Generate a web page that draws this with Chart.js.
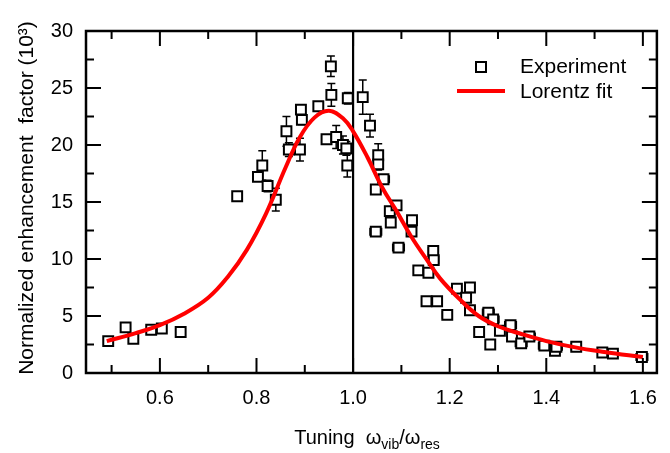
<!DOCTYPE html>
<html>
<head>
<meta charset="utf-8">
<script src="https://cdn.jsdelivr.net/npm/chart.js@4.4.0/dist/chart.umd.min.js"></script>
<style>
  body { margin: 0; background: #fff; }
  canvas { display: block; }
</style>
</head>
<body>
<canvas id="chart" width="670" height="453"></canvas>
<script>
// measured enhancement (10^3) vs tuning ratio, with error bars
const expX = [0.493, 0.529, 0.545, 0.582, 0.604, 0.643, 0.760, 0.803, 0.812, 0.823,
  0.840, 0.862, 0.867, 0.890, 0.892, 0.894, 0.928, 0.945, 0.954, 0.955,
  0.965, 0.979, 0.986, 0.988, 0.989, 1.020, 1.035, 1.047, 1.047, 1.052,
  1.052, 1.063, 1.076, 1.078, 1.090, 1.094, 1.122, 1.121, 1.135, 1.156,
  1.166, 1.167, 1.152, 1.174, 1.195, 1.215, 1.242, 1.234, 1.242, 1.261,
  1.280, 1.290, 1.284, 1.304, 1.326, 1.329, 1.348, 1.365, 1.396, 1.418,
  1.421, 1.462, 1.516, 1.538, 1.598]
const expY = [2.8, 4.0, 3.0, 3.8, 3.9, 3.6, 15.5, 17.2, 18.2, 16.4,
  15.2, 21.2, 19.6, 19.6, 23.1, 22.2, 23.4, 20.5, 26.9, 24.4,
  20.7, 20.0, 19.7, 18.2, 24.1, 24.2, 21.7, 16.1, 12.4, 19.1,
  18.3, 17.0, 14.2, 13.2, 14.7, 11.0, 13.4, 12.4, 9.0, 8.8,
  10.7, 9.9, 6.3, 6.3, 5.1, 7.4, 7.5, 6.6, 5.5, 3.6,
  5.3, 4.7, 2.5, 3.7, 4.2, 3.2, 2.6, 3.2, 2.4, 1.95,
  2.3, 2.3, 1.8, 1.7, 1.4]
const expYErr = [0, 0, 0, 0, 0, 0, 0, 0, 1.3, 0.5,
  1.0, 1.3, 0.6, 1.0, 0.4, 0.4, 0, 0.3, 0.9, 1.0,
  1.0, 0.8, 0.6, 1.0, 0.5, 1.5, 1.0, 0, 0, 1.0,
  0.5, 0, 0, 0, 0, 0, 0, 0, 0, 0,
  0, 0, 0, 0, 0, 0, 0, 0, 0, 0,
  0, 0, 0, 0, 0, 0, 0, 0, 0, 0,
  0, 0, 0, 0, 0]
const expXErr = [0, 0, 0, 0, 0, 0, 0, 0, 0, 0,
  0, 0, 0, 0, 0, 0, 0, 0, 0, 0,
  0, 0, 0, 0, 0, 0, 0, 0.01, 0.012, 0,
  0, 0.012, 0.01, 0, 0, 0.012, 0, 0, 0, 0,
  0.01, 0.01, 0, 0.01, 0.01, 0, 0, 0, 0.01, 0,
  0.012, 0.012, 0, 0, 0.012, 0, 0.012, 0.012, 0.012, 0,
  0.012, 0.01, 0, 0, 0.012]

// Lorentz fit curve
const fitX = [0.49, 0.55, 0.60, 0.65, 0.70, 0.74, 0.78, 0.82, 0.86, 0.89,
  0.92, 0.95, 0.98, 1.00, 1.03, 1.06, 1.09, 1.12, 1.15, 1.18,
  1.22, 1.26, 1.30, 1.35, 1.40, 1.46, 1.52, 1.60]
const fitY = [2.8, 3.5, 4.2, 5.2, 6.6, 8.4, 10.8, 14.0, 18.0, 20.7,
  22.4, 23.0, 22.3, 21.2, 18.9, 16.3, 14.2, 12.0, 10.1, 8.3,
  6.5, 5.0, 4.1, 3.4, 2.8, 2.25, 1.85, 1.4]

const resonanceAt = 1.0
const FONT = "'Liberation Sans', Arial, sans-serif"

const frameTicks = {
  id: 'frameTicks',
  beforeDatasetsDraw(chart) {
    const { ctx, chartArea: a, scales: { x, y } } = chart
    ctx.save()
    ctx.strokeStyle = '#000'
    // vertical line at resonance
    ctx.lineWidth = 2.2
    const rx = x.getPixelForValue(resonanceAt)
    ctx.beginPath()
    ctx.moveTo(rx, a.top)
    ctx.lineTo(rx, a.bottom)
    ctx.stroke()
    // error bars
    ctx.lineWidth = 1.5
    const cap = 4
    expX.forEach((xv, i) => {
      const px = x.getPixelForValue(xv)
      const py = y.getPixelForValue(expY[i])
      if (expYErr[i] > 0) {
        const t = y.getPixelForValue(expY[i] + expYErr[i])
        const b = y.getPixelForValue(expY[i] - expYErr[i])
        ctx.beginPath()
        ctx.moveTo(px, t); ctx.lineTo(px, b)
        ctx.moveTo(px - cap, t); ctx.lineTo(px + cap, t)
        ctx.moveTo(px - cap, b); ctx.lineTo(px + cap, b)
        ctx.stroke()
      }
      if (expXErr[i] > 0) {
        const l = x.getPixelForValue(xv - expXErr[i])
        const r = x.getPixelForValue(xv + expXErr[i])
        ctx.beginPath()
        ctx.moveTo(l, py); ctx.lineTo(r, py)
        ctx.moveTo(l, py - cap); ctx.lineTo(l, py + cap)
        ctx.moveTo(r, py - cap); ctx.lineTo(r, py + cap)
        ctx.stroke()
      }
    })
    ctx.restore()
  },
  afterDraw(chart) {
    const { ctx, chartArea: a, scales: { x, y } } = chart
    ctx.save()
    ctx.strokeStyle = '#000'
    ctx.fillStyle = '#000'

    // inward ticks on all four sides
    ctx.lineWidth = 2
    ctx.beginPath()
    x.ticks.forEach(t => {
      const major = Math.abs(t.value * 5 - Math.round(t.value * 5)) < 1e-6
      const len = major ? 15 : 8
      const px = x.getPixelForValue(t.value)
      ctx.moveTo(px, a.bottom); ctx.lineTo(px, a.bottom - len)
      ctx.moveTo(px, a.top); ctx.lineTo(px, a.top + len)
    })
    y.ticks.forEach(t => {
      const len = t.value % 5 === 0 ? 15 : 8
      const py = y.getPixelForValue(t.value)
      ctx.moveTo(a.left, py); ctx.lineTo(a.left + len, py)
      ctx.moveTo(a.right, py); ctx.lineTo(a.right - len, py)
    })
    ctx.stroke()

    // frame
    ctx.lineWidth = 2.5
    ctx.strokeRect(a.left, a.top, a.right - a.left, a.bottom - a.top)

    // y title
    ctx.save()
    ctx.translate(27, 198)
    ctx.rotate(-Math.PI / 2)
    ctx.font = '21px ' + FONT
    ctx.textAlign = 'center'
    ctx.textBaseline = 'middle'
    ctx.fillText('Normalized enhancement  factor (10³)', 0, 0)
    ctx.restore()

    // x title with subscripts
    const parts = [
      ['Tuning  ', 20, 0], ['ω', 20, 0], ['vib', 14, 5],
      ['/ω', 20, 0], ['res', 14, 5]
    ]
    let w = 0
    parts.forEach(p => { ctx.font = p[1] + 'px ' + FONT; w += ctx.measureText(p[0]).width })
    let tx = 367 - w / 2
    ctx.textAlign = 'left'
    ctx.textBaseline = 'alphabetic'
    parts.forEach(p => {
      ctx.font = p[1] + 'px ' + FONT
      ctx.fillText(p[0], tx, 444 + p[2])
      tx += ctx.measureText(p[0]).width
    })

    // legend
    ctx.font = '21px ' + FONT
    ctx.textBaseline = 'middle'
    ctx.lineWidth = 2
    ctx.fillStyle = '#fff'
    ctx.fillRect(476, 62, 10, 10)
    ctx.strokeRect(476, 62, 10, 10)
    ctx.fillStyle = '#000'
    ctx.fillText('Experiment', 520, 67)
    ctx.strokeStyle = '#ff0000'
    ctx.lineWidth = 4
    ctx.beginPath()
    ctx.moveTo(457, 91); ctx.lineTo(505, 91)
    ctx.stroke()
    ctx.fillText('Lorentz fit', 520, 92)
    ctx.restore()
  }
}

const ctx = document.getElementById('chart').getContext('2d')

const myChart = new Chart(ctx, {
  type: 'scatter',
  data: {
    datasets: [{
      type: 'line',
      label: 'Lorentz fit',
      data: fitX.map((v, i) => ({ x: v, y: fitY[i] })),
      borderColor: '#ff0000',
      borderWidth: 4,
      pointRadius: 0,
      tension: 0.4,
      fill: false,
      order: 0
    }, {
      label: 'Experiment',
      data: expX.map((v, i) => ({ x: v, y: expY[i] })),
      pointStyle: 'rect',
      pointRadius: 7,
      borderColor: '#000',
      backgroundColor: '#fff',
      borderWidth: 2,
      order: 1
    }]
  },
  options: {
    responsive: false,
    animation: false,
    layout: { padding: { top: 31, right: 5, left: 0, bottom: 0 } },
    plugins: { legend: { display: false }, tooltip: { enabled: false } },
    scales: {
      x: {
        type: 'linear',
        min: 0.447,
        max: 1.629,
        grid: { display: false, drawTicks: false },
        border: { display: false },
        ticks: {
          stepSize: 0.1,
          includeBounds: false,
          autoSkip: false,
          maxRotation: 0,
          padding: 13,
          color: '#000',
          font: { size: 20, family: FONT },
          callback: v => Math.abs(v * 5 - Math.round(v * 5)) < 1e-6 ? v.toFixed(1) : ''
        },
        afterFit: s => { s.height = 80 }
      },
      y: {
        min: 0,
        max: 30,
        grid: { display: false, drawTicks: false },
        border: { display: false },
        ticks: {
          stepSize: 2.5,
          autoSkip: false,
          padding: 13,
          color: '#000',
          font: { size: 20, family: FONT },
          callback: v => v % 5 === 0 ? v : ''
        },
        afterFit: s => { s.width = 86 }
      }
    }
  },
  plugins: [frameTicks]
})
</script>
</body>
</html>
